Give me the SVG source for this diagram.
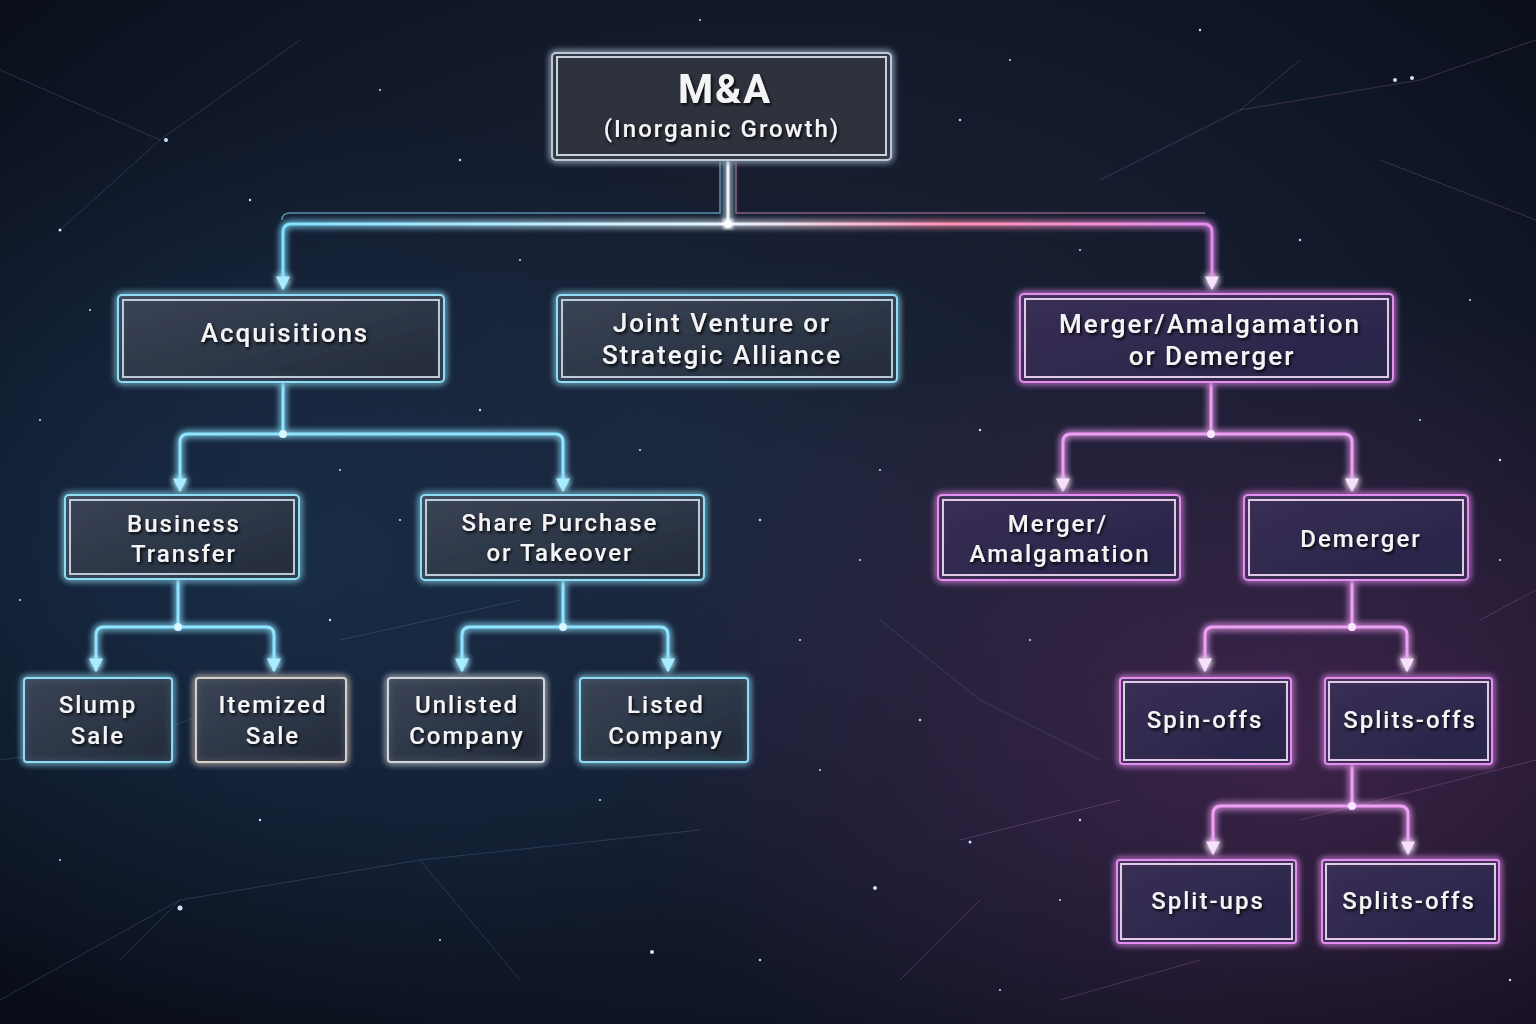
<svg xmlns="http://www.w3.org/2000/svg" width="1536" height="1024" viewBox="0 0 1536 1024">
<defs>
<radialGradient id="bg" cx="50%" cy="45%" r="75%">
<stop offset="0" stop-color="#1c2438"/>
<stop offset="0.55" stop-color="#121a2b"/>
<stop offset="1" stop-color="#080c16"/>
</radialGradient>
<radialGradient id="bgBlue" cx="18%" cy="55%" r="45%">
<stop offset="0" stop-color="#1b3a5c" stop-opacity="0.55"/>
<stop offset="1" stop-color="#1b3a5c" stop-opacity="0"/>
</radialGradient>
<radialGradient id="bgPink" cx="85%" cy="72%" r="45%">
<stop offset="0" stop-color="#5a2a5e" stop-opacity="0.6"/>
<stop offset="1" stop-color="#5a2a5e" stop-opacity="0"/>
</radialGradient>
<linearGradient id="busGrad" gradientUnits="userSpaceOnUse" x1="280" y1="0" x2="1215" y2="0">
<stop offset="0" stop-color="#7fe0ff"/>
<stop offset="0.48" stop-color="#e8f6ff"/>
<stop offset="0.72" stop-color="#ff8fb0"/>
<stop offset="1" stop-color="#e48af0"/>
</linearGradient>
<linearGradient id="fillBlue" x1="0" y1="0" x2="1" y2="1">
<stop offset="0" stop-color="#3a4456"/>
<stop offset="1" stop-color="#222b3b"/>
</linearGradient>
<linearGradient id="fillPink" x1="0" y1="0" x2="1" y2="1">
<stop offset="0" stop-color="#3a2f55"/>
<stop offset="1" stop-color="#262447"/>
</linearGradient>
<filter id="glow" x="-20%" y="-20%" width="140%" height="140%">
<feGaussianBlur in="SourceGraphic" stdDeviation="3.5" result="b"/>
<feMerge><feMergeNode in="b"/><feMergeNode in="b"/><feMergeNode in="SourceGraphic"/></feMerge>
</filter>
<filter id="tshadow" x="-10%" y="-30%" width="120%" height="160%">
<feDropShadow dx="1.5" dy="2" stdDeviation="1.5" flood-color="#000" flood-opacity="0.9"/>
</filter>
<marker id="aBlue" viewBox="0 0 10 10" refX="9" refY="5" markerWidth="14" markerHeight="14" markerUnits="userSpaceOnUse" orient="auto">
<path d="M0,0 L10,5 L0,10 z" fill="#a8ecff"/>
</marker>
<marker id="aWhite" viewBox="0 0 10 10" refX="9" refY="5" markerWidth="14" markerHeight="14" markerUnits="userSpaceOnUse" orient="auto">
<path d="M0,0 L10,5 L0,10 z" fill="#f4f8ff"/>
</marker>
<marker id="aPink" viewBox="0 0 10 10" refX="9" refY="5" markerWidth="14" markerHeight="14" markerUnits="userSpaceOnUse" orient="auto">
<path d="M0,0 L10,5 L0,10 z" fill="#f6e2fa"/>
</marker>
<style>
.txt{font-family:Roboto,"Liberation Sans",sans-serif;font-weight:500;fill:#f4f4f6;text-anchor:middle;letter-spacing:2px;filter:url(#tshadow)}
.t26{font-size:26px}
.t24{font-size:24px}
.outB{fill:url(#fillBlue);fill-opacity:0.88;stroke:#8fdcf6;stroke-width:2;filter:url(#glow)}
.inB{fill:none;stroke:#d6e2ee;stroke-width:2;stroke-opacity:0.85}
.outP{fill:url(#fillPink);fill-opacity:0.9;stroke:#e58ef0;stroke-width:2;filter:url(#glow)}
.inP{fill:none;stroke:#f3dcf6;stroke-width:2;stroke-opacity:0.9}
.cB{fill:none;stroke:#8fe4ff;stroke-width:3;filter:url(#glow)}
.cP{fill:none;stroke:#eea0f4;stroke-width:3;filter:url(#glow)}
.star{fill:#cfe0ff}
.net{stroke:#6a88b8;stroke-width:0.8;stroke-opacity:0.35;fill:none}
.netP{stroke:#c07ab8;stroke-width:0.8;stroke-opacity:0.35;fill:none}
</style>
</defs>

<g id="background">
<rect width="1536" height="1024" fill="url(#bg)"/>
<rect width="1536" height="1024" fill="url(#bgBlue)"/>
<rect width="1536" height="1024" fill="url(#bgPink)"/>
<path class="net" d="M0,70 L160,140 L300,40 M160,140 L60,230 M0,760 L140,740 L260,690 M0,1000 L180,900 L420,860 L700,830 M180,900 L120,960 M420,860 L520,980 M340,640 L520,600 M880,620 L980,700 L1100,760"/>
<path class="netP" d="M1100,180 L1240,110 L1420,80 L1536,40 M1240,110 L1300,60 M1380,160 L1536,220 M960,840 L1120,800 M1300,820 L1536,760 M1060,1000 L1200,960 M1480,620 L1536,590 M900,980 L980,900"/>
<g>
<circle class="star" cx="166" cy="140" r="2"/><circle class="star" cx="60" cy="230" r="1.5"/>
<circle class="star" cx="1395" cy="80" r="2" fill="#8fe0ff"/><circle class="star" cx="1412" cy="78" r="2" fill="#8fe0ff"/>
<circle class="star" cx="180" cy="908" r="2.5" fill="#5ab8ff"/><circle class="star" cx="875" cy="888" r="2" fill="#5ab8ff"/>
<circle class="star" cx="652" cy="952" r="2" fill="#5ab8ff"/><circle class="star" cx="970" cy="842" r="1.5"/>
<circle class="star" cx="40" cy="420" r="1"/><circle class="star" cx="90" cy="310" r="1"/><circle class="star" cx="250" cy="200" r="1.2"/>
<circle class="star" cx="380" cy="90" r="1"/><circle class="star" cx="460" cy="160" r="1.2"/><circle class="star" cx="520" cy="260" r="1"/>
<circle class="star" cx="960" cy="120" r="1.2"/><circle class="star" cx="1010" cy="60" r="1"/><circle class="star" cx="1080" cy="250" r="1"/>
<circle class="star" cx="1300" cy="240" r="1.2"/><circle class="star" cx="1470" cy="300" r="1"/><circle class="star" cx="1500" cy="460" r="1.2"/>
<circle class="star" cx="1420" cy="420" r="1"/><circle class="star" cx="880" cy="470" r="1"/><circle class="star" cx="760" cy="520" r="1.2"/>
<circle class="star" cx="640" cy="450" r="1"/><circle class="star" cx="400" cy="520" r="1"/><circle class="star" cx="330" cy="620" r="1.2"/>
<circle class="star" cx="800" cy="640" r="1"/><circle class="star" cx="920" cy="720" r="1.2"/><circle class="star" cx="1030" cy="640" r="1"/>
<circle class="star" cx="60" cy="860" r="1"/><circle class="star" cx="260" cy="820" r="1.2"/><circle class="star" cx="440" cy="940" r="1"/>
<circle class="star" cx="760" cy="960" r="1.2"/><circle class="star" cx="820" cy="770" r="1"/><circle class="star" cx="1060" cy="900" r="1"/>
<circle class="star" cx="1510" cy="980" r="1.2"/><circle class="star" cx="1000" cy="990" r="1"/><circle class="star" cx="600" cy="800" r="1"/>
<circle class="star" cx="700" cy="20" r="1"/><circle class="star" cx="1200" cy="30" r="1.2"/><circle class="star" cx="20" cy="600" r="1"/>
<circle class="star" cx="340" cy="470" r="1"/><circle class="star" cx="480" cy="410" r="1.2"/><circle class="star" cx="860" cy="560" r="1"/>
<circle class="star" cx="980" cy="430" r="1.2"/><circle class="star" cx="1500" cy="560" r="1"/><circle class="star" cx="1080" cy="820" r="1.2"/>
</g>
</g>

<g id="connectors">
<path d="M728,160 V224 H291 Q283,224 283,232 V289" stroke="url(#busGrad)" stroke-width="3" fill="none" filter="url(#glow)" marker-end="url(#aBlue)"/>
<path d="M728,224 H1204 Q1212,224 1212,232 V289" stroke="url(#busGrad)" stroke-width="3" fill="none" filter="url(#glow)" marker-end="url(#aPink)"/>
<path d="M728,224 V289" stroke="#eef6ff" stroke-width="3" fill="none" filter="url(#glow)" marker-end="url(#aWhite)"/>
<path d="M720,162 V213 H290 Q282,213 282,220" stroke="#7fdcff" stroke-width="1.5" stroke-opacity="0.6" fill="none"/>
<path d="M736,162 V213 H1205" stroke="#f0a0d0" stroke-width="1.5" stroke-opacity="0.5" fill="none"/>
<circle cx="728" cy="224" r="4" fill="#ffffff" filter="url(#glow)"/>

<path class="cB" d="M283,382 V434 H188 Q180,434 180,442 V491" marker-end="url(#aBlue)"/>
<path class="cB" d="M283,434 H555 Q563,434 563,442 V491" marker-end="url(#aBlue)"/>
<circle cx="283" cy="434" r="4" fill="#d8f6ff"/>

<path class="cP" d="M1211,382 V434 H1071 Q1063,434 1063,442 V491" marker-end="url(#aPink)"/>
<path class="cP" d="M1211,434 H1344 Q1352,434 1352,442 V491" marker-end="url(#aPink)"/>
<circle cx="1211" cy="434" r="4" fill="#fbe6ff"/>

<path class="cB" d="M178,580 V627 H104 Q96,627 96,635 V671" marker-end="url(#aBlue)"/>
<path class="cB" d="M178,627 H266 Q274,627 274,635 V671" marker-end="url(#aBlue)"/>
<circle cx="178" cy="627" r="4" fill="#d8f6ff"/>

<path class="cB" d="M563,580 V627 H470 Q462,627 462,635 V671" marker-end="url(#aBlue)"/>
<path class="cB" d="M563,627 H660 Q668,627 668,635 V671" marker-end="url(#aBlue)"/>
<circle cx="563" cy="627" r="4" fill="#d8f6ff"/>

<path class="cP" d="M1352,580 V627 H1213 Q1205,627 1205,635 V671" marker-end="url(#aPink)"/>
<path class="cP" d="M1352,627 H1399 Q1407,627 1407,635 V671" marker-end="url(#aPink)"/>
<circle cx="1352" cy="627" r="4" fill="#fbe6ff"/>

<path class="cP" d="M1352,764 V806 H1221 Q1213,806 1213,814 V854" marker-end="url(#aPink)"/>
<path class="cP" d="M1352,806 H1400 Q1408,806 1408,814 V854" marker-end="url(#aPink)"/>
<circle cx="1352" cy="806" r="4" fill="#fbe6ff"/>
</g>

<g id="node-root">
<rect x="552" y="53" width="339" height="107" rx="4" fill="#2c323e" fill-opacity="0.92" stroke="#b9c8dc" stroke-width="2" filter="url(#glow)"/>
<rect x="557" y="57" width="329" height="98" fill="none" stroke="#e6ecf4" stroke-width="2" stroke-opacity="0.85"/>
<text class="txt" x="725" y="103" font-size="40" style="font-weight:700">M&amp;A</text>
<text class="txt t24" x="722" y="137">(Inorganic Growth)</text>
</g>

<g id="node-acquisitions">
<rect class="outB" x="118" y="295" width="326" height="87" rx="4"/>
<rect class="inB" x="123" y="300" width="316" height="77"/>
<text class="txt t26" x="285" y="342">Acquisitions</text>
</g>

<g id="node-jv">
<rect class="outB" x="557" y="295" width="340" height="87" rx="4"/>
<rect class="inB" x="562" y="300" width="330" height="77"/>
<text class="txt t26" x="722" y="332">Joint Venture or</text>
<text class="txt t26" x="722" y="364">Strategic Alliance</text>
</g>

<g id="node-merger-demerger">
<rect class="outP" x="1020" y="294" width="373" height="88" rx="4"/>
<rect class="inP" x="1025" y="299" width="363" height="78"/>
<text class="txt t26" x="1210" y="333">Merger/Amalgamation</text>
<text class="txt t26" x="1212" y="365">or Demerger</text>
</g>

<g id="node-business-transfer">
<rect class="outB" x="65" y="495" width="234" height="84" rx="4"/>
<rect class="inB" x="70" y="500" width="224" height="74"/>
<text class="txt t24" x="184" y="532">Business</text>
<text class="txt t24" x="184" y="562">Transfer</text>
</g>

<g id="node-share-purchase">
<rect class="outB" x="421" y="495" width="283" height="85" rx="4"/>
<rect class="inB" x="426" y="500" width="273" height="75"/>
<text class="txt t24" x="560" y="531">Share Purchase</text>
<text class="txt t24" x="560" y="561">or Takeover</text>
</g>

<g id="node-merger">
<rect class="outP" x="938" y="495" width="242" height="85" rx="4"/>
<rect class="inP" x="943" y="500" width="232" height="75"/>
<text class="txt t24" x="1058" y="532">Merger/</text>
<text class="txt t24" x="1060" y="562">Amalgamation</text>
</g>

<g id="node-demerger">
<rect class="outP" x="1244" y="495" width="224" height="85" rx="4"/>
<rect class="inP" x="1249" y="500" width="214" height="75"/>
<text class="txt t24" x="1361" y="547">Demerger</text>
</g>

<g id="node-slump">
<rect class="outB" x="24" y="678" width="148" height="84" rx="3"/>
<text class="txt t24" x="98" y="713">Slump</text>
<text class="txt t24" x="98" y="744">Sale</text>
</g>

<g id="node-itemized">
<rect class="outB" x="196" y="678" width="150" height="84" rx="3" style="stroke:#d8cfc8"/>
<text class="txt t24" x="273" y="713">Itemized</text>
<text class="txt t24" x="273" y="744">Sale</text>
</g>

<g id="node-unlisted">
<rect class="outB" x="388" y="678" width="156" height="84" rx="3" style="stroke:#cfd6e0"/>
<text class="txt t24" x="467" y="713">Unlisted</text>
<text class="txt t24" x="467" y="744">Company</text>
</g>

<g id="node-listed">
<rect class="outB" x="580" y="678" width="168" height="84" rx="3"/>
<text class="txt t24" x="666" y="713">Listed</text>
<text class="txt t24" x="666" y="744">Company</text>
</g>

<g id="node-spinoffs">
<rect class="outP" x="1120" y="678" width="171" height="86" rx="3"/>
<rect class="inP" x="1124" y="682" width="163" height="78"/>
<text class="txt t24" x="1205" y="728">Spin-offs</text>
</g>

<g id="node-splitoffs-1">
<rect class="outP" x="1325" y="678" width="167" height="86" rx="3"/>
<rect class="inP" x="1329" y="682" width="159" height="78"/>
<text class="txt t24" x="1410" y="728">Splits-offs</text>
</g>

<g id="node-splitups">
<rect class="outP" x="1117" y="860" width="179" height="83" rx="3"/>
<rect class="inP" x="1121" y="864" width="171" height="75"/>
<text class="txt t24" x="1208" y="909">Split-ups</text>
</g>

<g id="node-splitoffs-2">
<rect class="outP" x="1322" y="860" width="177" height="83" rx="3"/>
<rect class="inP" x="1326" y="864" width="169" height="75"/>
<text class="txt t24" x="1409" y="909">Splits-offs</text>
</g>
</svg>
